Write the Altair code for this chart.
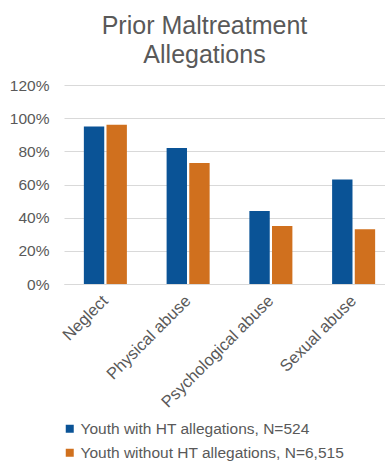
import altair as alt
import pandas as pd

categories = ["Neglect", "Physical abuse", "Psychological abuse", "Sexual abuse"]
with_ht = [0.95, 0.82, 0.44, 0.63]
without_ht = [0.96, 0.73, 0.35, 0.33]
series = ["Youth with HT allegations, N=524", "Youth without HT allegations, N=6,515"]
colors = ["#0A5396", "#D0701E"]
y_ticks = [0, 0.2, 0.4, 0.6, 0.8, 1.0, 1.2]

rows = []
for i, c in enumerate(categories):
    rows.append({"cat": c, "series": series[0], "value": with_ht[i]})
    rows.append({"cat": c, "series": series[1], "value": without_ht[i]})
df = pd.DataFrame(rows)

font = "Liberation Sans"
grey = "#595959"
fs = 15.5

chart = alt.Chart(df).mark_bar().encode(
    x=alt.X("cat:N", sort=categories, title=None,
            scale=alt.Scale(range=[0, 331], paddingInner=0.48, paddingOuter=0.24),
            axis=alt.Axis(labelAngle=-45, labelAlign="right", labelBaseline="middle",
                          labelPadding=14, labelFontSize=16.5, labelColor=grey, labelFont=font,
                          ticks=False, domainColor="#d9d9d9", labelLimit=300)),
    xOffset=alt.XOffset("series:N", sort=series, scale=alt.Scale(paddingInner=0.1)),
    y=alt.Y("value:Q", scale=alt.Scale(domain=[0, 1.2], nice=False), title=None,
            axis=alt.Axis(values=y_ticks, format=".0%", domain=False, ticks=False,
                          gridColor="#d9d9d9", labelFontSize=fs, labelColor=grey,
                          labelFont=font, labelPadding=15)),
    color=alt.Color("series:N", sort=series, scale=alt.Scale(domain=series, range=colors),
                    legend=alt.Legend(title=None, orient="none", legendX=-2, legendY=336,
                                      symbolType="square", symbolSize=64, labelFontSize=fs,
                                      labelColor=grey, labelFont=font, rowPadding=7,
                                      labelOffset=3, padding=0,
                                      labelLimit=400, symbolStrokeWidth=0)),
).properties(
    width=321, height=199,
    title=alt.Title(["Prior Maltreatment", "Allegations"], fontSize=25, font=font,
                    color=grey, fontWeight="normal", anchor="middle", dx=-20, dy=-6,
                    lineHeight=29.5),
    autosize=alt.AutoSizeParams(type="none"),
    padding={"left": 64, "top": 85, "right": 0, "bottom": 179},
).configure_view(stroke=None)

chart.save("out.html", embed_options={"renderer": "svg", "actions": False})
